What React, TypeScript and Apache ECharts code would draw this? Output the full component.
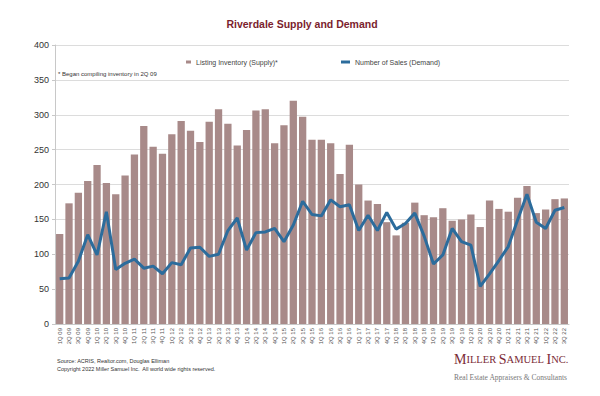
import React, { useEffect, useRef } from "react";
import * as echarts from "echarts";

const categories = [
  "1Q 09", "2Q 09", "3Q 09", "4Q 09",
  "1Q 10", "2Q 10", "3Q 10", "4Q 10",
  "1Q 11", "2Q 11", "3Q 11", "4Q 11",
  "1Q 12", "2Q 12", "3Q 12", "4Q 12",
  "1Q 13", "2Q 13", "3Q 13", "4Q 13",
  "1Q 14", "2Q 14", "3Q 14", "4Q 14",
  "1Q 15", "2Q 15", "3Q 15", "4Q 15",
  "1Q 16", "2Q 16", "3Q 16", "4Q 16",
  "1Q 17", "2Q 17", "3Q 17", "4Q 17",
  "1Q 18", "2Q 18", "3Q 18", "4Q 18",
  "1Q 19", "2Q 19", "3Q 19", "4Q 19",
  "1Q 20", "2Q 20", "3Q 20", "4Q 20",
  "1Q 21", "2Q 21", "3Q 21", "4Q 21",
  "1Q 22", "2Q 22", "3Q 22",
];

const supply = [
  129, 173, 188, 205,
  228, 202, 186, 213,
  243, 284, 254, 244,
  272, 291, 277, 261,
  290, 308, 287, 256,
  278, 306, 308, 259,
  285, 320, 297, 264,
  264, 259, 215, 257,
  200, 177, 172, 146,
  127, 145, 174, 156,
  153, 166, 148, 150,
  157, 139, 177, 165,
  161, 181, 198, 159,
  164, 179, 180,
];

const demand = [
  65, 66, 90, 128,
  99, 161, 78, 87,
  93, 80, 83, 72,
  88, 85, 109, 110,
  97, 100, 134, 152,
  106, 131, 132, 137,
  118, 142, 176, 157,
  155, 178, 168, 171,
  134, 156, 134, 160,
  136, 144, 159, 126,
  86, 99, 137, 118,
  113, 54, 72, 91,
  111, 149, 186, 146,
  137, 163, 167,
];

const SUPPLY_NAME = "Listing Inventory (Supply)*";
const DEMAND_NAME = "Number of Sales (Demand)";
const TITLE = "Riverdale Supply and Demand";
const NOTE = "* Began compiling inventory in 2Q 09";
const SOURCE = "Source: ACRIS, Realtor.com, Douglas Elliman";
const COPYRIGHT = "Copyright 2022 Miller Samuel Inc.  All world wide rights reserved.";

const SANS = "'Liberation Sans', Arial, sans-serif";
const SERIF = "'Liberation Serif', 'Times New Roman', serif";

export default function App() {
  const ref = useRef<HTMLDivElement>(null);

  useEffect(() => {
    document.body.style.margin = "0";
    if (!ref.current) return;
    const chart = echarts.init(ref.current, undefined, { renderer: "svg" });
    chart.setOption({
      animation: false,
      backgroundColor: "#ffffff",
      grid: { left: 55, right: 31, top: 45, bottom: 72, containLabel: false },
      legend: [
        {
          data: [{ name: SUPPLY_NAME, icon: "rect" }],
          left: 186,
          top: 57,
          itemWidth: 5,
          itemHeight: 3,
          padding: 0,
          textStyle: { fontFamily: SANS, fontSize: 7, color: "#444", lineHeight: 10 },
          selectedMode: false,
        },
        {
          data: [{ name: DEMAND_NAME, icon: "rect" }],
          left: 341,
          top: 57,
          itemWidth: 9,
          itemHeight: 3,
          padding: 0,
          textStyle: { fontFamily: SANS, fontSize: 7, color: "#444", lineHeight: 10 },
          selectedMode: false,
        },
      ],
      xAxis: {
        type: "category",
        data: categories,
        axisLine: { show: true, lineStyle: { color: "#c8c8c8" } },
        axisTick: { show: false },
        axisLabel: {
          interval: 0,
          rotate: 90,
          fontFamily: SANS,
          fontSize: 6,
          color: "#555",
          margin: 4,
        },
      },
      yAxis: {
        type: "value",
        min: 0,
        max: 400,
        interval: 50,
        axisLine: { show: true, lineStyle: { color: "#c8c8c8" } },
        axisTick: { show: true, length: 3, lineStyle: { color: "#c8c8c8" } },
        axisLabel: { fontFamily: SANS, fontSize: 9, color: "#333", margin: 6 },
        splitLine: { lineStyle: { color: "#dcdcdc", width: 1 } },
      },
      series: [
        {
          name: SUPPLY_NAME,
          type: "bar",
          data: supply,
          barWidth: "78%",
          itemStyle: { color: "#a88a89" },
          z: 2,
        },
        {
          name: DEMAND_NAME,
          type: "line",
          data: demand,
          symbol: "none",
          lineStyle: { color: "#2c6c9c", width: 3 },
          itemStyle: { color: "#2c6c9c" },
          z: 3,
        },
      ],
      graphic: [
        {
          type: "text",
          x: 302,
          y: 24,
          style: {
            text: TITLE,
            fontFamily: SANS,
            fontSize: 10.5,
            fontWeight: "bold",
            fill: "#7b1e2e",
            textAlign: "center",
            textVerticalAlign: "middle",
          },
        },
        {
          type: "text",
          x: 58,
          y: 74,
          style: {
            text: NOTE,
            fontFamily: SANS,
            fontSize: 6,
            fill: "#333",
            textAlign: "left",
            textVerticalAlign: "middle",
          },
        },
        {
          type: "text",
          x: 57,
          y: 361,
          style: {
            text: SOURCE,
            fontFamily: SANS,
            fontSize: 5.5,
            fill: "#333",
            textAlign: "left",
            textVerticalAlign: "middle",
          },
        },
        {
          type: "text",
          x: 57,
          y: 369,
          style: {
            text: COPYRIGHT,
            fontFamily: SANS,
            fontSize: 5.5,
            fill: "#333",
            textAlign: "left",
            textVerticalAlign: "middle",
          },
        },
        {
          type: "text",
          x: 454,
          y: 366,
          style: {
            text: "{b|M}{s|ILLER }{b|S}{s|AMUEL }{b|I}{s|NC.}",
            textAlign: "left",
            textVerticalAlign: "bottom",
            rich: {
              b: { fontFamily: SERIF, fontSize: 14, fill: "#7a2a36" },
              s: { fontFamily: SERIF, fontSize: 10.5, fill: "#7a2a36" },
            },
          },
        },
        {
          type: "text",
          x: 454,
          y: 377,
          style: {
            text: "Real Estate Appraisers & Consultants",
            fontFamily: SERIF,
            fontSize: 7.5,
            fill: "#777",
            textAlign: "left",
            textVerticalAlign: "middle",
          },
        },
      ],
    });
    return () => chart.dispose();
  }, []);

  return <div ref={ref} style={{ width: 600, height: 396 }} />;
}
